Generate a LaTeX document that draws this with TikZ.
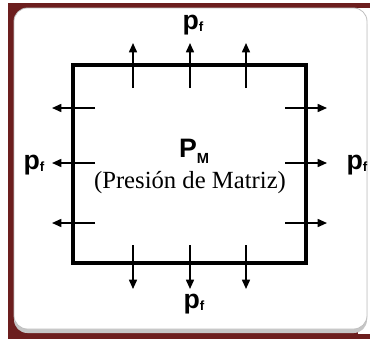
\documentclass[tikz,border=0pt]{standalone}
\usepackage{fontspec}
\setmainfont{Liberation Serif}
\setsansfont{Liberation Sans}
\usetikzlibrary{arrows.meta}
\definecolor{marco}{RGB}{108,30,30}
\newcommand{\subf}[1]{\raisebox{-1.5pt}{\fontsize{10}{11}\selectfont #1}}
\newcommand{\subM}[1]{\raisebox{-5pt}{\fontsize{11}{12}\selectfont #1}}

\begin{document}
\begin{tikzpicture}[x=0.75pt,y=-0.75pt,
    flecha/.style={-{Triangle[length=7pt,width=6pt]},line width=1.2pt},
    etiq/.style={font=\sffamily\bfseries\fontsize{20}{22}\selectfont,inner sep=0pt,anchor=base}]
    \useasboundingbox (0,0) rectangle (370,339);
    % marco
    \fill[marco] (8,2.5) rectangle (370,339);
    \fill[white] (358,8) rectangle (370,334);
    \fill[gray!45,rounded corners=10pt] (14,11) rectangle (367,333);
    \draw[gray!50,fill=white,rounded corners=10pt,line width=0.6pt] (14,8) rectangle (367,329);
    % placa
    \draw[line width=2.6pt] (73,65) rectangle (306,263);
    \begin{scope}
        \foreach \i/\x in {1/133,2/190,3/246} {
            \coordinate (ta\i) at (\x,88);
            \coordinate (tb\i) at (\x,43);
            \draw[flecha] (ta\i) -- (tb\i);
            \coordinate (ba\i) at (\x,245);
            \coordinate (bb\i) at (\x,289);
            \draw[flecha] (ba\i) -- (bb\i);
        }
        \foreach \i/\y in {1/108,2/163,3/223} {
            \coordinate (la\i) at (95,\y);
            \coordinate (lb\i) at (52,\y);
            \draw[flecha] (la\i) -- (lb\i);
            \coordinate (ra\i) at (285,\y);
            \coordinate (rb\i) at (327,\y);
            \draw[flecha] (ra\i) -- (rb\i);
        }
    \end{scope}
    % etiquetas
    \node[etiq] (pfarr) at (193,29) {p\subf{f}};
    \node[etiq] (pfab) at (194,308) {p\subf{f}};
    \node[etiq] (pfizq) at (34,169) {p\subf{f}};
    \node[etiq] (pfder) at (357,169) {p\subf{f}};
    \node[etiq] (pm) at (194,157) {P\subM{M}};
    \node[font=\fontsize{18.5}{21}\selectfont,inner sep=0pt,anchor=base] (txt) at (190,188) {(Presión de Matriz)};
\end{tikzpicture}
\end{document}
